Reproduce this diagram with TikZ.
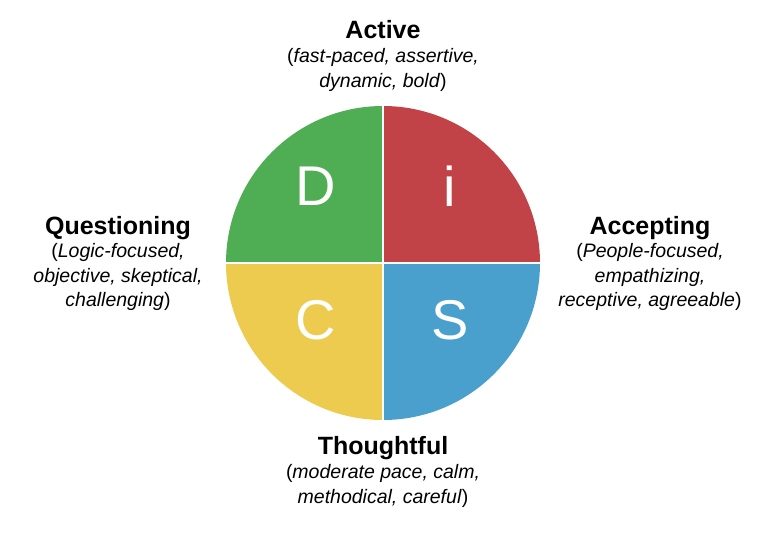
\documentclass[tikz,border=0pt]{standalone}
\usepackage{fontspec}
\setmainfont{Liberation Sans}
\definecolor{dg}{HTML}{4FAE54}
\definecolor{dr}{HTML}{C24347}
\definecolor{dy}{HTML}{ECCB4E}
\definecolor{db}{HTML}{4AA0CD}
\begin{document}
\begin{tikzpicture}[x=1pt,y=-1pt,
  ttl/.style={font=\fontsize{25}{28}\selectfont\bfseries},
  sub/.style={font=\fontsize{19.5}{24.5}\selectfont,align=center},
  let/.style={font=\fontsize{56}{56}\selectfont,text=white,draw=none}]
\useasboundingbox (0,0) rectangle (768,539);
\begin{scope}
\clip (383,263) circle[radius=157];
\fill[dg] (226,106) rectangle (383,263);
\fill[dr] (383,106) rectangle (540,263);
\fill[dy] (226,263) rectangle (383,420);
\fill[db] (383,263) rectangle (540,420);
\draw[white,line width=1.5pt] (383,100) -- (383,426) (220,263) -- (546,263);
\end{scope}
\node[let] (D) at (316,186) {D};
\node[let] (I) at (450,186) {i};
\node[let] (C) at (316,320) {C};
\node[let] (S) at (450,320) {S};
\node[ttl] (act) at (383,30) {Active};
\node[sub] (acts) at (383,70) {(\textit{fast-paced, assertive,}\\\textit{dynamic, bold})};
\node[ttl] (que) at (118,228) {Questioning};
\node[sub] (ques) at (118,277) {(\textit{Logic-focused,}\\\textit{objective, skeptical,}\\\textit{challenging})};
\node[ttl] (acc) at (650,228) {Accepting};
\node[sub] (accs) at (650,277) {(\textit{People-focused,}\\\textit{empathizing,}\\\textit{receptive, agreeable})};
\node[ttl] (tho) at (383,448) {Thoughtful};
\node[sub] (thos) at (383,486) {(\textit{moderate pace, calm,}\\\textit{methodical, careful})};
\end{tikzpicture}
\end{document}
